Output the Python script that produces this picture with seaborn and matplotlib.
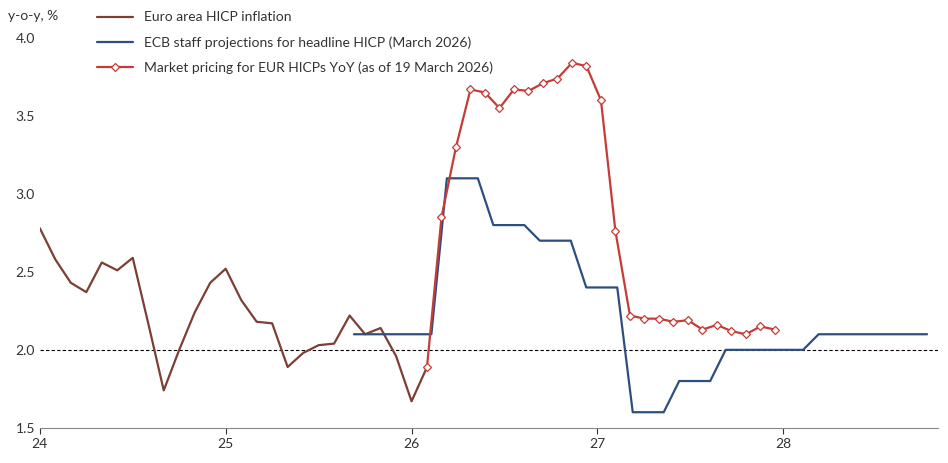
import numpy as np
import pandas as pd
import matplotlib
matplotlib.use('Agg')
import matplotlib.pyplot as plt
import seaborn as sns

sns.set_style('white')
plt.rcParams['font.family'] = ['Lato', 'DejaVu Sans']

# Euro area HICP inflation, monthly from Jan 2024
euro_vals = [2.78, 2.58, 2.43, 2.37, 2.56, 2.51, 2.59, 2.17, 1.74, 2.00, 2.24, 2.43,
             2.52, 2.32, 2.18, 2.17, 1.89, 1.98, 2.03, 2.04, 2.22, 2.10, 2.14, 1.96,
             1.67, 1.89]

# ECB staff projections, quarterly (Q4 2025 .. Q4 2028), monthly points
ecb_q = [2.1, 2.1, 3.1, 2.8, 2.7, 2.4, 1.6, 1.8, 2.0, 2.0, 2.1, 2.1, 2.1]
ecb_months = 38

# Market pricing for EUR HICPs YoY
mkt_vals = [1.89, 2.85, 3.30, 3.67, 3.65, 3.55, 3.67, 3.66, 3.71, 3.74, 3.84, 3.82,
            3.60, 2.76, 2.22, 2.20, 2.20, 2.18, 2.19, 2.13, 2.16, 2.12, 2.10, 2.15, 2.13]

euro = pd.DataFrame({'x': 24 + np.arange(len(euro_vals)) / 12, 'y': euro_vals})
ecb_y = np.repeat(ecb_q, 3)[:ecb_months]
ecb = pd.DataFrame({'x': 25.69 + np.arange(len(ecb_y)) / 12, 'y': ecb_y})
mkt = pd.DataFrame({'x': 26.083 + np.arange(len(mkt_vals)) * 0.078, 'y': mkt_vals})

fig = plt.figure(figsize=(9.48, 4.63), dpi=100)
ax = fig.add_axes([0.042, 0.076, 0.947, 0.842])

ax.axhline(2.0, color='black', lw=0.8, ls=(0, (3, 2)))
sns.lineplot(data=euro, x='x', y='y', ax=ax, color='#7b3f34', lw=1.6,
             label='Euro area HICP inflation')
sns.lineplot(data=ecb, x='x', y='y', ax=ax, color='#2d4f80', lw=1.6,
             label='ECB staff projections for headline HICP (March 2026)')
sns.lineplot(data=mkt, x='x', y='y', ax=ax, color='#c43c35', lw=1.6, marker='D',
             markersize=4, markerfacecolor='white', markeredgecolor='#c43c35',
             markeredgewidth=0.9,
             label='Market pricing for EUR HICPs YoY (as of 19 March 2026)')

ax.set_xlim(24, 28.83)
ax.set_ylim(1.5, 4.0)
ax.set_xticks([24, 25, 26, 27, 28])
ax.set_xticklabels(['24', '25', '26', '27', '28'])
ax.set_yticks([1.5, 2.0, 2.5, 3.0, 3.5, 4.0])
ax.set_yticklabels(['1.5', '2.0', '2.5', '3.0', '3.5', '4.0'])
ax.set_xlabel('')
ax.set_ylabel('')
ax.tick_params(axis='x', length=4, direction='out', bottom=True, labelsize=10, colors='#333333')
ax.tick_params(axis='y', length=0, labelsize=10, colors='#333333')
for s in ['top', 'right', 'left']:
    ax.spines[s].set_visible(False)
ax.spines['bottom'].set_color('#888888')

fig.text(0.008, 0.965, 'y-o-y, %', fontsize=10, color='#333333', va='center')
leg = ax.legend(loc='upper left', bbox_to_anchor=(0.05, 1.1), frameon=False,
                fontsize=10, handlelength=2.6, labelspacing=0.9)
for t in leg.get_texts():
    t.set_color('#333333')

plt.savefig('out.png', dpi=100)
plt.close()
